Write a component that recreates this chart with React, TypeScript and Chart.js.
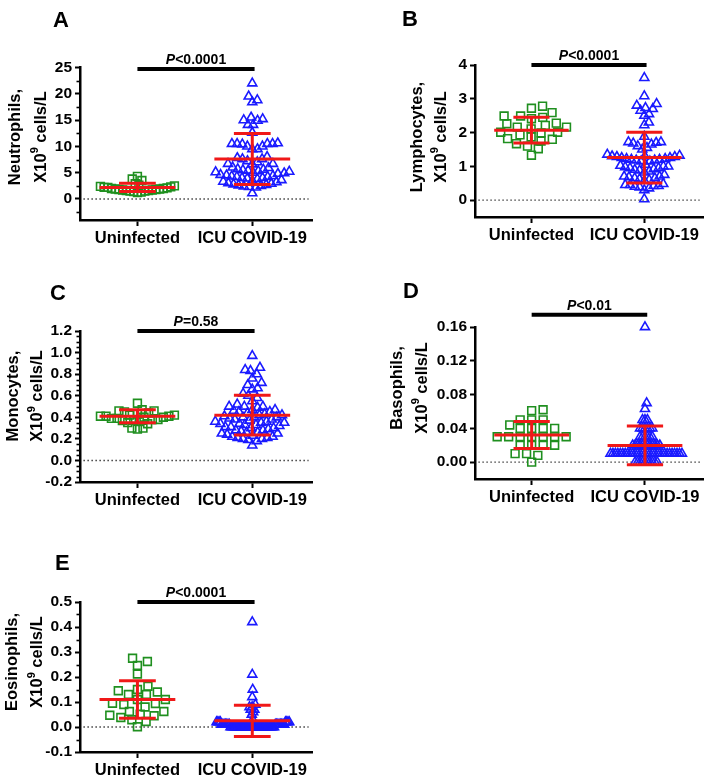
import React, { useEffect, useRef } from 'react';
import { Chart, registerables } from 'chart.js';
Chart.register(...registerables);

// ---------------- data ----------------
const GROUPS = ['Uninfected', 'ICU COVID-19'];

const A_UNINF = [4.3, 3.8, 3.5, 2.9, 2.6, 2.5, 2.4, 2.3, 2.2, 2.2, 2.1, 2.0, 2.0, 1.9, 1.9, 1.8, 1.8, 1.7, 1.7, 1.6, 1.6, 1.5, 1.5, 1.4, 1.3, 1.2];
const A_ICU = [22, 19.5, 18.4, 18.8, 15.2, 14.9, 15.5, 14.1, 14.1, 15.0, 12.6,
  10.5, 10.6, 10.4, 9.5, 10.5, 10.0, 10.0, 10.5, 10.5, 9.5,
  7.6, 7.6, 6.6, 8.0, 6.7, 6.7, 7.0, 7.2, 7.8,
  5.7, 5.5, 5.4, 5.3, 5.2, 5.6, 5.1, 5.0, 5.9, 6.0,
  4.2, 4.8, 4.3, 4.5, 4.0, 3.6, 4.2, 4.6, 4.4, 3.8, 4.0, 4.9, 3.5, 3.3, 3.9,
  2.3, 3.2, 2.8, 2.4, 2.6, 3.0, 2.2, 2.5, 2.9, 2.7, 1.1];
const A_MEANS = [2.2, 7.6];
const A_SDS = [0.8, 4.85];

const B_UNINF = [2.59, 2.41, 2.21, 2.01, 1.75, 1.93, 2.45, 2.26, 2.01, 1.82, 1.6, 2.78, 2.49, 2.11, 1.8, 1.33, 2.16, 1.52, 2.72, 2.49, 2.16, 1.87, 1.67, 2.28, 1.99];
const B_ICU = [3.62, 3.08, 2.85, 2.8, 2.73, 2.7, 2.65, 2.55, 2.5, 2.3, 2.22, 1.88,
  1.72, 1.7, 1.68, 1.65, 1.72, 1.6, 1.5, 1.55,
  1.35, 1.32, 1.3, 1.28, 1.25, 1.22, 1.2, 1.2, 1.18, 1.15, 1.25, 1.3, 1.22, 1.18, 1.15, 1.28,
  1.05, 1.02, 1.0, 0.98, 0.95, 0.92, 0.9, 0.88, 0.95, 1.0, 0.85, 0.82,
  0.75, 0.7, 0.68, 0.65, 0.62, 0.6, 0.58, 0.7, 0.65,
  0.48, 0.45, 0.42, 0.4, 0.38, 0.35, 0.42, 0.45, 0.3, 0.03];
const B_MEANS = [2.07, 1.26];
const B_SDS = [0.38, 0.75];

const C_UNINF = [0.53, 0.47, 0.46, 0.46, 0.45, 0.44, 0.43, 0.42, 0.42, 0.41, 0.41, 0.41, 0.40, 0.40, 0.39, 0.39, 0.38, 0.38, 0.37, 0.37, 0.36, 0.35, 0.34, 0.30, 0.30, 0.29];
const C_ICU = [0.97, 0.86, 0.84, 0.83, 0.80, 0.76, 0.72, 0.70, 0.67, 0.66,
  0.62, 0.60, 0.58, 0.55, 0.52, 0.50, 0.50, 0.50, 0.49, 0.47,
  0.47, 0.46, 0.45, 0.45, 0.44, 0.43, 0.42, 0.42, 0.41, 0.40,
  0.40, 0.40, 0.39, 0.38, 0.38, 0.37, 0.36, 0.36, 0.35, 0.35,
  0.34, 0.34, 0.33, 0.33, 0.32, 0.31, 0.31, 0.30, 0.30, 0.29,
  0.28, 0.28, 0.27, 0.26, 0.26, 0.25, 0.25, 0.24, 0.23, 0.22,
  0.22, 0.21, 0.21, 0.20, 0.20, 0.19, 0.18, 0.14];
const C_MEANS = [0.41, 0.42];
const C_SDS = [0.06, 0.185];

const D_UNINF = [0.061, 0.062, 0.05, 0.05, 0.05, 0.044, 0.04, 0.04, 0.04, 0.04,
  0.03, 0.03, 0.03, 0.03, 0.03, 0.03, 0.03, 0.02, 0.02, 0.02, 0.02, 0.01, 0.01, 0.008, 0.0];
const D_ICU = [0.16, 0.07, 0.063, 0.05, 0.05, 0.05, 0.04, 0.04, 0.04, 0.04, 0.04, 0.04,
  0.03, 0.03, 0.03, 0.03, 0.03, 0.03,
  0.02, 0.02, 0.02, 0.02, 0.02, 0.02, 0.02, 0.02, 0.02, 0.02, 0.02, 0.02,
  0.01, 0.01, 0.01, 0.01, 0.01, 0.01, 0.01, 0.01, 0.01, 0.01,
  0.01, 0.01, 0.01, 0.01, 0.01, 0.01, 0.01, 0.01, 0.01, 0.01,
  0.01, 0.01, 0.01, 0.01, 0.01, 0.01, 0.01, 0.01, 0.01, 0.01,
  0.0, 0.0, 0.0, 0.0, 0.0, 0.0, 0.0, 0.0, 0.0, 0.0];
const D_MEANS = [0.032, 0.0198];
const D_SDS = [0.016, 0.023];

const E_UNINF = [0.275, 0.246, 0.262, 0.212, 0.15, 0.163, 0.13, 0.13, 0.14, 0.145, 0.11, 0.094, 0.08, 0.09, 0.095, 0.11, 0.051, 0.062, 0.029, 0.045, 0.047, 0.022, 0.038, 0.062, 0.001];
const E_ICU = [0.42, 0.21, 0.15, 0.12, 0.09, 0.08, 0.08, 0.07, 0.07, 0.06, 0.05, 0.03,
  0.02, 0.02, 0.02, 0.02, 0.02, 0.02, 0.02, 0.02,
  0.01, 0.01, 0.01, 0.01, 0.01, 0.01, 0.01, 0.01, 0.01, 0.01, 0.01, 0.01, 0.01, 0.01, 0.01,
  0.0, 0.0, 0.0, 0.0, 0.0, 0.0, 0.0, 0.0, 0.0, 0.0,
  0.0, 0.0, 0.0, 0.0, 0.0, 0.0, 0.0, 0.0, 0.0, 0.0,
  0.0, 0.0, 0.0, 0.0, 0.0, 0.0, 0.0, 0.0, 0.0, 0.0,
  0.0, 0.0, 0.0, 0.0, 0.0];
const E_MEANS = [0.11, 0.025];
const E_SDS = [0.075, 0.0625];

const A_YTICKS = ['0', '5', '10', '15', '20', '25'];
const B_YTICKS = ['0', '1', '2', '3', '4'];
const C_YTICKS = ['-0.2', '0.0', '0.2', '0.4', '0.6', '0.8', '1.0', '1.2'];
const D_YTICKS = ['0.00', '0.04', '0.08', '0.12', '0.16'];
const E_YTICKS = ['-0.1', '0.0', '0.1', '0.2', '0.3', '0.4', '0.5'];

const TITLES = ['Neutrophils,', 'Lymphocytes,', 'Monocytes,', 'Basophils,', 'Eosinophils,'];
const LETTERS = ['A', 'B', 'C', 'D', 'E'];
const P_TEXTS = ['<0.0001', '<0.0001', '=0.58', '<0.01', '<0.0001'];

// ---------------- styling / layout ----------------
const FONT = "'Liberation Sans', Arial, Helvetica, sans-serif";
const GREEN = '#1f8f1f';
const BLUE = '#1a1aff';
const RED = '#f01818';
const X_MIN = -0.5;
const X_MAX = 1.52;

type Spec = {
  uninf: number[]; icu: number[]; means: number[]; sds: number[]; yticks: string[];
  title: string; letter: string; pText: string;
  yMin: number; yMax: number; barLevel: number; minorStep: number;
  x: number; y: number; w: number; h: number;
  area: { l: number; r: number; t: number; b: number };
  letterPos: [number, number]; titleX: [number, number]; titleCY: number;
};

const SPECS: Spec[] = [
  { uninf: A_UNINF, icu: A_ICU, means: A_MEANS, sds: A_SDS, yticks: A_YTICKS, title: TITLES[0], letter: LETTERS[0], pText: P_TEXTS[0],
    yMin: -4, yMax: 25, barLevel: 24.7, minorStep: 2.5, x: 0, y: 0, w: 355, h: 260,
    area: { l: 80, r: 312, t: 67.5, b: 220 }, letterPos: [53, 27], titleX: [15, 41], titleCY: 137 },
  { uninf: B_UNINF, icu: B_ICU, means: B_MEANS, sds: B_SDS, yticks: B_YTICKS, title: TITLES[1], letter: LETTERS[1], pText: P_TEXTS[1],
    yMin: -0.5, yMax: 4, barLevel: 4.0, minorStep: 0, x: 355, y: 0, w: 356, h: 260,
    area: { l: 120, r: 348, t: 65, b: 217 }, letterPos: [47, 25.5], titleX: [62, 86], titleCY: 137 },
  { uninf: C_UNINF, icu: C_ICU, means: C_MEANS, sds: C_SDS, yticks: C_YTICKS, title: TITLES[2], letter: LETTERS[2], pText: P_TEXTS[2],
    yMin: -0.2, yMax: 1.2, barLevel: 1.2, minorStep: 0.05, x: 0, y: 260, w: 355, h: 260,
    area: { l: 80, r: 312, t: 71, b: 222 }, letterPos: [50, 40], titleX: [13, 37.5], titleCY: 136 },
  { uninf: D_UNINF, icu: D_ICU, means: D_MEANS, sds: D_SDS, yticks: D_YTICKS, title: TITLES[3], letter: LETTERS[3], pText: P_TEXTS[3],
    yMin: -0.02, yMax: 0.16, barLevel: 0.1745, minorStep: 0, x: 355, y: 260, w: 356, h: 260,
    area: { l: 120, r: 349, t: 67, b: 219 }, letterPos: [48, 38], titleX: [42, 67], titleCY: 128 },
  { uninf: E_UNINF, icu: E_ICU, means: E_MEANS, sds: E_SDS, yticks: E_YTICKS, title: TITLES[4], letter: LETTERS[4], pText: P_TEXTS[4],
    yMin: -0.1, yMax: 0.5, barLevel: 0.5, minorStep: 0.05, x: 0, y: 520, w: 355, h: 262,
    area: { l: 80, r: 312, t: 82, b: 232 }, letterPos: [55, 50], titleX: [12.5, 37.5], titleCY: 142 },
];

// beeswarm placement (collision-free, then compressed to a max half-width), computed from the values
function swarm(values: number[], center: number, yPx: number, xPx: number) {
  const MW = 11.5, MH = 8, HALF = 37;
  const order = values.map((_, i) => i).sort((a, b) => values[a] - values[b]);
  const placed: { px: number; py: number; i: number }[] = [];
  for (const i of order) {
    const py = values[i] * yPx;
    const near = placed.filter(p => Math.abs(p.py - py) < MH);
    const intervals = near.map(p => {
      const dy = (p.py - py) / MH;
      const w = MW * Math.sqrt(Math.max(0, 1 - dy * dy));
      return [p.px - w, p.px + w];
    });
    const cands = [0];
    intervals.forEach(([a, b]) => { cands.push(a, b); });
    cands.sort((a, b) => Math.abs(a) - Math.abs(b) || b - a);
    let chosen = 0;
    for (const c of cands) {
      if (intervals.every(([a, b]) => c <= a + 1e-6 || c >= b - 1e-6)) { chosen = c; break; }
    }
    placed.push({ px: chosen, py, i });
  }
  const maxAbs = Math.max(1e-6, ...placed.map(p => Math.abs(p.px)));
  const f = Math.min(1, HALF / maxAbs);
  return placed.map(p => ({ x: center + (p.px * f) / xPx, y: values[p.i] }));
}

function seg(x1: number, y1: number, x2: number, y2: number, color: string, width: number, order: number, dash: number[] = []) {
  return {
    type: 'line', data: [{ x: x1, y: y1 }, { x: x2, y: y2 }], borderColor: color, borderWidth: width,
    pointRadius: 0, borderDash: dash, fill: false, tension: 0, order, clip: false, borderCapStyle: 'butt',
  };
}

function buildConfig(s: Spec): any {
  const yPx = (s.area.b - s.area.t) / (s.yMax - s.yMin);
  const xPx = (s.area.r - s.area.l) / (X_MAX - X_MIN);
  const datasets: any[] = [];
  const groups = [s.uninf, s.icu];
  groups.forEach((vals, g) => {
    datasets.push({
      type: 'line', showLine: false, data: swarm(vals, g, yPx, xPx),
      pointStyle: g === 0 ? 'rect' : 'triangle', pointRadius: g === 0 ? 5.5 : 5.2,
      pointBorderColor: g === 0 ? GREEN : BLUE, pointBackgroundColor: 'rgba(0,0,0,0)',
      borderColor: g === 0 ? GREEN : BLUE, pointBorderWidth: 1.6, order: 1, clip: false,
    });
    const m = s.means[g], sd = s.sds[g];
    datasets.push(seg(g - 0.33, m, g + 0.33, m, RED, 3, 0));
    datasets.push(seg(g - 0.16, m + sd, g + 0.16, m + sd, RED, 3, 0));
    datasets.push(seg(g - 0.16, m - sd, g + 0.16, m - sd, RED, 3, 0));
    datasets.push(seg(g, m - sd, g, m + sd, RED, 3, 0));
  });
  datasets.push(seg(-0.47, 0, 1.49, 0, '#333333', 1.4, 2, [1.4, 2.6]));
  datasets.push(seg(0, s.barLevel, 1.02, s.barLevel, '#000000', 4, 0));

  const decor = {
    id: 'decor' + s.letter,
    afterDraw(chart: any) {
      const ctx = chart.ctx as CanvasRenderingContext2D;
      const ys = chart.scales.y, xs = chart.scales.x;
      ctx.save();
      ctx.fillStyle = '#000';
      ctx.strokeStyle = '#000';
      // minor ticks
      if (s.minorStep > 0) {
        ctx.lineWidth = 1.6;
        const majors = s.yticks.map(Number);
        const n = Math.round((s.yMax - s.yMin) / s.minorStep);
        for (let k = 0; k <= n; k++) {
          const v = Math.ceil(s.yMin / s.minorStep) * s.minorStep + k * s.minorStep;
          if (v < s.yMin - 1e-9 || v > s.yMax + 1e-9) continue;
          if (majors.some(mj => Math.abs(mj - v) < 1e-6)) continue;
          const py = Math.round(ys.getPixelForValue(v)) + 0.5;
          ctx.beginPath();
          ctx.moveTo(s.area.l - 3.5, py);
          ctx.lineTo(s.area.l, py);
          ctx.stroke();
        }
      }
      // panel letter
      ctx.font = `bold 22px ${FONT}`;
      ctx.textAlign = 'left';
      ctx.textBaseline = 'alphabetic';
      ctx.fillText(s.letter, s.letterPos[0], s.letterPos[1]);
      // P value
      const py = ys.getPixelForValue(s.barLevel) - 5;
      const cx = xs.getPixelForValue(0.51);
      ctx.font = `italic bold 14px ${FONT}`;
      const wP = ctx.measureText('P').width;
      ctx.font = `bold 14px ${FONT}`;
      const wR = ctx.measureText(s.pText).width;
      const x0 = cx - (wP + wR) / 2;
      ctx.font = `italic bold 14px ${FONT}`;
      ctx.fillText('P', x0, py);
      ctx.font = `bold 14px ${FONT}`;
      ctx.fillText(s.pText, x0 + wP, py);
      // y title (rotated, two lines)
      ctx.save();
      ctx.translate(s.titleX[0], s.titleCY);
      ctx.rotate(-Math.PI / 2);
      ctx.font = `bold 16.5px ${FONT}`;
      ctx.textAlign = 'center';
      ctx.textBaseline = 'middle';
      ctx.fillText(s.title, 0, 0);
      ctx.restore();
      ctx.save();
      ctx.translate(s.titleX[1], s.titleCY);
      ctx.rotate(-Math.PI / 2);
      ctx.textAlign = 'left';
      ctx.textBaseline = 'middle';
      ctx.font = `bold 16.5px ${FONT}`;
      const w1 = ctx.measureText('X10').width;
      const w3 = ctx.measureText(' cells/L').width;
      ctx.font = `bold 11px ${FONT}`;
      const w2 = ctx.measureText('9').width;
      let tx = -(w1 + w2 + w3) / 2;
      ctx.font = `bold 16.5px ${FONT}`;
      ctx.fillText('X10', tx, 0);
      tx += w1;
      ctx.font = `bold 11px ${FONT}`;
      ctx.fillText('9', tx, -6);
      tx += w2;
      ctx.font = `bold 16.5px ${FONT}`;
      ctx.fillText(' cells/L', tx, 0);
      ctx.restore();
      ctx.restore();
    },
  };

  return {
    type: 'line',
    data: { datasets },
    options: {
      responsive: false,
      animation: false,
      devicePixelRatio: 1,
      events: [],
      layout: { padding: { left: 0, top: s.area.t, right: s.w - s.area.r, bottom: 0 } },
      plugins: { legend: { display: false }, tooltip: { enabled: false }, title: { display: false } },
      scales: {
        x: {
          type: 'linear', min: X_MIN, max: X_MAX,
          afterBuildTicks: (sc: any) => { sc.ticks = [{ value: 0 }, { value: 1 }]; },
          afterFit: (sc: any) => { sc.height = s.h - s.area.b; },
          ticks: {
            callback: (v: number) => GROUPS[Math.round(v)], color: '#000', padding: 3,
            font: { family: FONT, size: 16.5, weight: 'bold' }, maxRotation: 0, autoSkip: false,
          },
          grid: { drawOnChartArea: false, drawTicks: true, tickLength: 6, tickWidth: 2, tickColor: '#000' },
          border: { display: true, width: 2.5, color: '#000' },
        },
        y: {
          type: 'linear', min: s.yMin, max: s.yMax,
          afterBuildTicks: (sc: any) => { sc.ticks = s.yticks.map(t => ({ value: Number(t) })); },
          afterFit: (sc: any) => { sc.width = s.area.l; },
          ticks: {
            callback: (_v: number, i: number) => s.yticks[i], color: '#000', padding: 3,
            font: { family: FONT, size: 15.5, weight: 'bold' }, autoSkip: false,
          },
          grid: { drawOnChartArea: false, drawTicks: true, tickLength: 5, tickWidth: 2, tickColor: '#000' },
          border: { display: true, width: 2.5, color: '#000' },
        },
      },
    },
    plugins: [decor],
  };
}

function Panel({ spec }: { spec: Spec }) {
  const ref = useRef<HTMLCanvasElement>(null);
  useEffect(() => {
    const chart = new Chart(ref.current as HTMLCanvasElement, buildConfig(spec));
    return () => chart.destroy();
  }, [spec]);
  return (
    <canvas
      ref={ref}
      width={spec.w}
      height={spec.h}
      style={{ position: 'absolute', left: spec.x, top: spec.y, width: spec.w, height: spec.h }}
    />
  );
}

export default function App() {
  return (
    <div style={{ position: 'absolute', left: 0, top: 0, width: 711, height: 782, background: '#fff' }}>
      {SPECS.map(s => <Panel key={s.letter} spec={s} />)}
    </div>
  );
}
